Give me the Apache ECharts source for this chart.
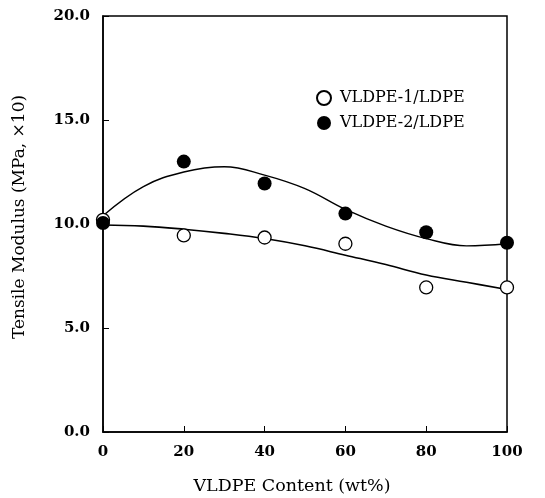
<!DOCTYPE html>
<html>
<head>
<meta charset="utf-8">
<script src="https://cdn.jsdelivr.net/npm/echarts@6/dist/echarts.min.js"></script>
<style>
  html, body { margin: 0; padding: 0; background: #fff; }
  #chart { width: 545px; height: 498px; }
</style>
</head>
<body>
<div id="chart"></div>
<script>
// 测量点
var content = [0, 20, 40, 60, 80, 100];
var vldpe1 = [10.2, 9.45, 9.35, 9.05, 6.95, 6.95];
var vldpe2 = [10.05, 13.0, 11.95, 10.5, 9.6, 9.1];

// 拟合曲线
var fitX = [0, 10, 20, 30, 40, 50, 60, 70, 80, 90, 100];
var fit1 = [9.95, 9.9, 9.75, 9.55, 9.3, 8.95, 8.5, 8.05, 7.55, 7.2, 6.85];
var fit2 = [10.4, 11.8, 12.5, 12.75, 12.35, 11.7, 10.7, 9.9, 9.3, 8.95, 9.05];

var serif = "'DejaVu Serif', 'Liberation Serif', serif";

function pairs(xs, ys) {
  return xs.map(function (x, i) { return [x, ys[i]]; });
}

var myChart = echarts.init(document.getElementById('chart'));
var option = {
  animation: false,
  backgroundColor: '#fff',
  grid: {
    left: 103, right: 38, top: 16, bottom: 66,
    outerBoundsMode: 'none',
    containLabel: false,
    show: true, borderColor: '#000', borderWidth: 1.5
  },
  legend: {
    orient: 'vertical',
    left: 311, top: 85,
    itemWidth: 14, itemHeight: 14, itemGap: 9,
    textStyle: { fontFamily: serif, fontSize: 16, color: '#000', padding: [0, 0, 0, 4] },
    data: ['VLDPE-1/LDPE', 'VLDPE-2/LDPE']
  },
  xAxis: {
    type: 'value',
    min: 0, max: 100, interval: 20,
    name: 'VLDPE Content (wt%)',
    nameLocation: 'middle', nameGap: 45,
    nameTextStyle: { fontFamily: serif, fontSize: 17.5, color: '#000', padding: [0, 26, 0, 0] },
    axisLine: { lineStyle: { color: '#000', width: 1.5 } },
    axisTick: { inside: true, length: 6, lineStyle: { color: '#000' } },
    axisLabel: { fontFamily: serif, fontSize: 15, fontWeight: 'bold', color: '#000', margin: 13 },
    splitLine: { show: false }
  },
  yAxis: {
    type: 'value',
    min: 0, max: 20, interval: 5,
    name: 'Tensile Modulus (MPa, ×10)',
    nameLocation: 'middle', nameGap: 75,
    nameTextStyle: { fontFamily: serif, fontSize: 17, color: '#000', padding: [0, 0, 0, 14] },
    axisLine: { lineStyle: { color: '#000', width: 1.5 } },
    axisTick: { inside: true, length: 6, lineStyle: { color: '#000' } },
    axisLabel: {
      fontFamily: serif, fontSize: 15, fontWeight: 'bold', color: '#000', margin: 13,
      formatter: function (v) { return v.toFixed(1); }
    },
    splitLine: { show: false }
  },
  series: [
    {
      name: 'fit1', type: 'line', smooth: 0.4, showSymbol: false, silent: true,
      lineStyle: { color: '#000', width: 1.6 },
      data: pairs(fitX, fit1), z: 2
    },
    {
      name: 'fit2', type: 'line', smooth: 0.4, showSymbol: false, silent: true,
      lineStyle: { color: '#000', width: 1.4 },
      data: pairs(fitX, fit2), z: 2
    },
    {
      name: 'VLDPE-1/LDPE', type: 'scatter', symbol: 'circle', symbolSize: 13,
      itemStyle: { color: '#fff', borderColor: '#000', borderWidth: 1.3, opacity: 1 },
      data: pairs(content, vldpe1), z: 3
    },
    {
      name: 'VLDPE-2/LDPE', type: 'scatter', symbol: 'circle', symbolSize: 14,
      itemStyle: { color: '#000', opacity: 1 },
      data: pairs(content, vldpe2), z: 3
    }
  ]
};
myChart.setOption(option);
</script>
</body>
</html>
